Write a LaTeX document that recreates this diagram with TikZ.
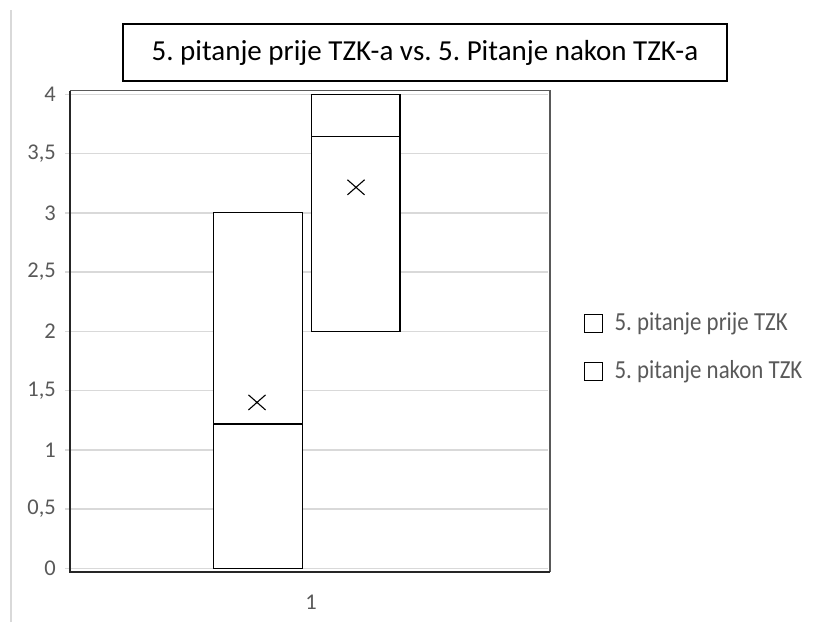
\documentclass[tikz,border=0pt]{standalone}
\usepackage{fontspec}
\setmainfont{Carlito}
\usetikzlibrary{positioning, shapes.misc}
\definecolor{gridgray}{HTML}{D9D9D9}
\definecolor{framegray}{HTML}{595959}
\definecolor{axisdark}{HTML}{262626}
\definecolor{labelgray}{HTML}{595959}
\frenchspacing
\tikzset{
x=1pt, y=1pt, % one unit is one pixel of the picture
gridline/.style={draw=gridgray, line width=1.5pt}, % horizontal value lines
boxplot/.style={draw=black, line width=1.3pt, fill=white}, % the two boxes
meanmark/.style={cross out, draw=black, line width=1.1pt, minimum width=16pt, minimum height=14pt, inner sep=0pt}, % the x marks
axislabel/.style={text=labelgray, font=\fontsize{22.5}{22.5}\selectfont, inner sep=0pt}, % numbers on the axes
legendkey/.style={draw=black, line width=1.4pt, minimum size=18pt, inner sep=0pt}, % legend squares
legendtext/.style={text=labelgray, font=\fontsize{26}{26}\selectfont, xscale=0.88, inner sep=0pt, anchor=west}, % legend entries
}

\begin{document}
\begin{tikzpicture}
    \useasboundingbox (0,0) rectangle (821,622);
    \draw[gridgray, line width=1.5pt] (11,0) -- (11,612);

    % title
    \node[draw=black, line width=1.1pt, minimum width=604pt, minimum height=57pt,
      font=\fontsize{29}{29}\selectfont] (title) at (425,569.5)
      {5. pitanje prije TZK-a vs. 5. Pitanje nakon TZK-a};

    \begin{scope}[yshift=53.7pt, y=118.5pt]
      % grid and value axis labels
      \foreach \v/\l in {0/0, 0.5/{0,5}, 1/1, 1.5/{1,5}, 2/2, 2.5/{2,5}, 3/3, 3.5/{3,5}, 4/4} {
        \draw[gridline] (65,\v) -- (548,\v);
        \node[axislabel, anchor=east] at (56,\v) {\l};
      }
      \draw[framegray, line width=1.4pt] (70,4.03) -- (550,4.03) -- (550,-0.03);
      \draw[axisdark, line width=2pt] (70,4.03) -- (70,-0.03) -- (550,-0.03);

      % prije
      \draw[boxplot] (213.7,0) rectangle (302.3,3);
      \draw[boxplot] (213.7,1.218) -- (302.3,1.218);
      \node[meanmark] (meanA) at (257,1.40) {};

      % nakon
      \draw[boxplot] (311.7,2) rectangle (400,4);
      \draw[boxplot] (311.7,3.645) -- (400,3.645);
      \node[meanmark] (meanB) at (356,3.215) {};

      \node[axislabel] (cat) at (311,-0.285) {1};
    \end{scope}

    % legend
    \node[legendkey] (keyA) at (593.7,298.7) {};
    \node[legendkey] (keyB) at (593.7,250.7) {};
    \node[legendtext, right=11pt of keyA] (textA) {5. pitanje prije TZK};
    \node[legendtext, right=11pt of keyB] (textB) {5. pitanje nakon TZK};
\end{tikzpicture}
\end{document}
